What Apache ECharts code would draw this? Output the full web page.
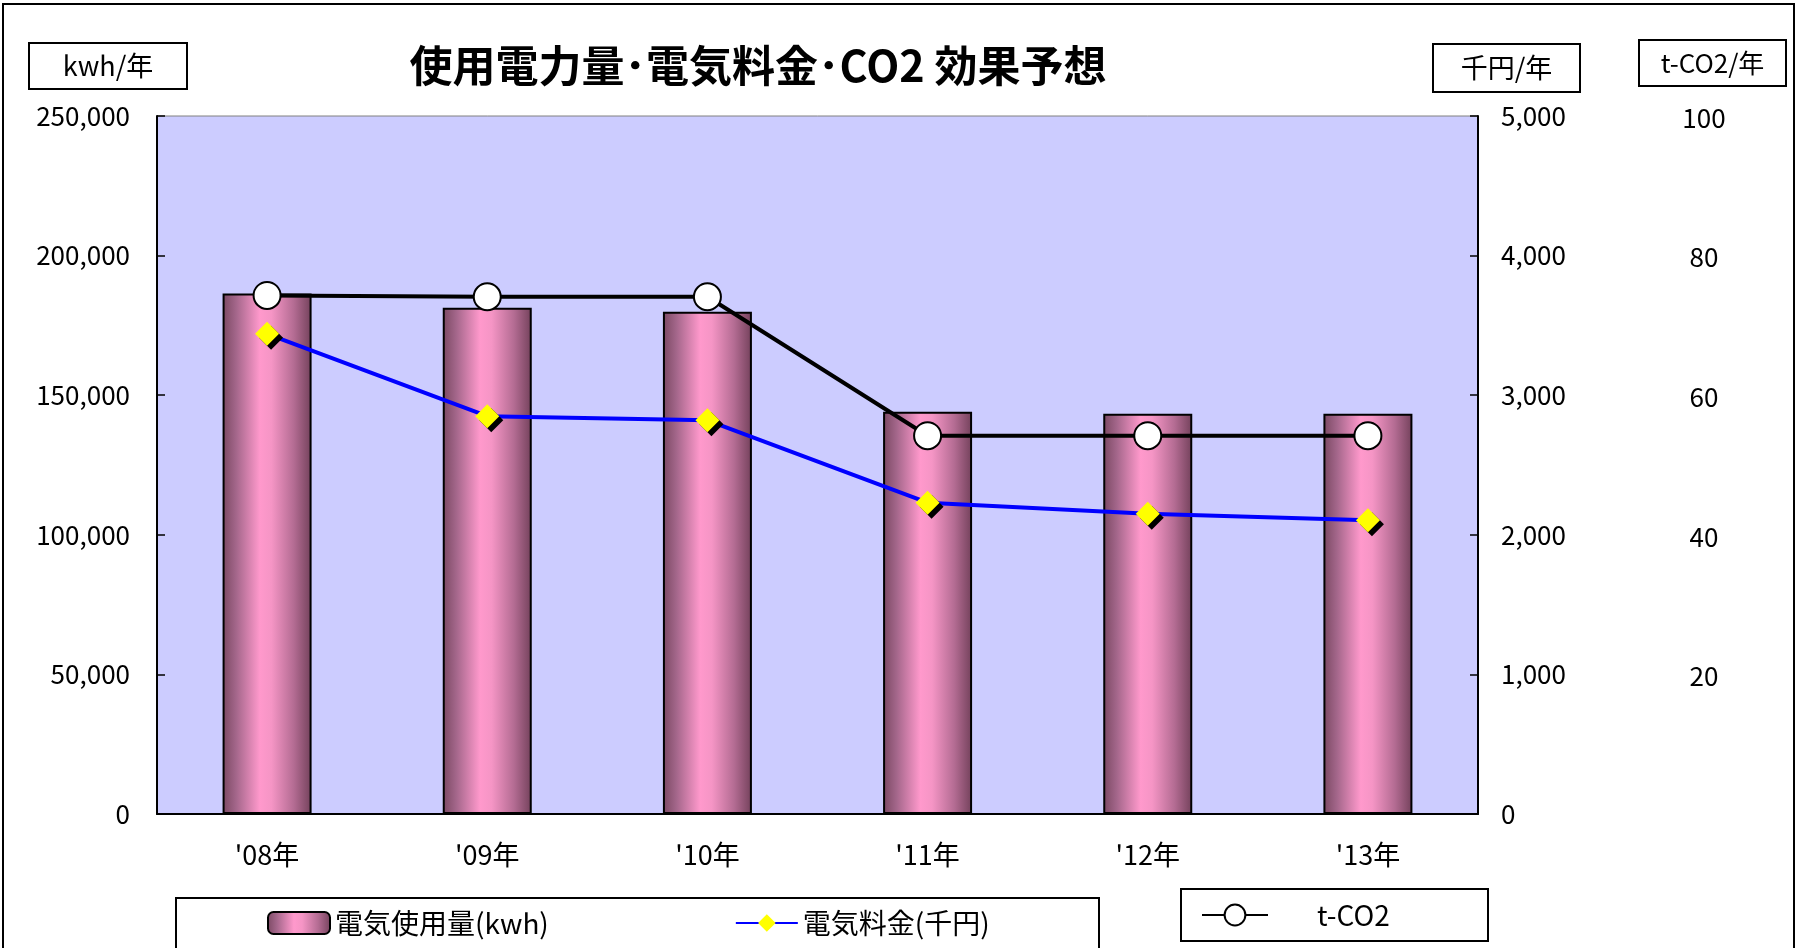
<!DOCTYPE html>
<html lang="ja">
<head>
<meta charset="utf-8">
<title>使用電力量・電気料金・CO2 効果予想</title>
<script src="https://cdn.jsdelivr.net/npm/echarts@6/dist/echarts.min.js"></script>
<style>
  html, body { margin: 0; padding: 0; background: #fff; }
  #chart { width: 1803px; height: 948px; }
</style>
</head>
<body>
<div id="chart"></div>
<script>
// 年度
const years = ["'08年", "'09年", "'10年", "'11年", "'12年", "'13年"];
// 電気使用量 (kwh/年)
const usageKwh = [186400, 181300, 179900, 144100, 143400, 143400];
// 電気料金 (千円/年)
const costSenYen = [3440, 2850, 2820, 2230, 2150, 2105];
// CO2 (t-CO2/年)
const co2Tons = [74.3, 74.1, 74.1, 54.2, 54.2, 54.2];

const FONT = '"Noto Sans CJK JP", "Noto Sans", sans-serif';
const comma = (v) => Number(v).toLocaleString('en-US');

const chart = echarts.init(document.getElementById('chart'));

// 円柱風のグラデーション
const barGradient = new echarts.graphic.LinearGradient(0, 0, 1, 0, [
  { offset: 0, color: '#7a4862' },
  { offset: 0.15, color: '#a3668a' },
  { offset: 0.42, color: '#ff99cc' },
  { offset: 0.55, color: '#f595c5' },
  { offset: 0.8, color: '#b46c93' },
  { offset: 1, color: '#73415b' },
]);

// 枠付きのラベル
function boxLabel(x, y, w, h, text, size) {
  return [
    { type: 'rect', shape: { x, y, width: w, height: h }, style: { fill: '#fff', stroke: '#000', lineWidth: 2 }, z: 1 },
    {
      type: 'text', z: 2,
      style: { x: x + w / 2, y: y + h / 2, text, align: 'center', verticalAlign: 'middle', font: `${size}px ${FONT}`, fill: '#000' },
    },
  ];
}

chart.setOption({
  backgroundColor: '#fff',
  textStyle: { fontFamily: FONT },
  animation: false,
  graphic: [
    // 外枠
    { type: 'rect', shape: { x: 3, y: 4, width: 1791, height: 980 }, style: { fill: 'none', stroke: '#000', lineWidth: 2 }, z: 0 },
    {
      type: 'text', z: 2,
      style: { x: 758, y: 66, text: '使用電力量･電気料金･CO2 効果予想', align: 'center', verticalAlign: 'middle', font: `bold 43px ${FONT}`, fill: '#000' },
    },
    ...boxLabel(29, 43, 158, 46, 'kwh/年', 27),
    ...boxLabel(1433, 44, 147, 48, '千円/年', 27),
    ...boxLabel(1639, 40, 147, 46, 't-CO2/年', 26),
    // 凡例の枠
    { type: 'rect', shape: { x: 176, y: 898, width: 923, height: 70 }, style: { fill: '#fff', stroke: '#000', lineWidth: 2 }, z: 0 },
    { type: 'rect', shape: { x: 1181, y: 889, width: 307, height: 52 }, style: { fill: '#fff', stroke: '#000', lineWidth: 2 }, z: 0 },
  ],
  legend: [
    {
      data: ['電気使用量(kwh)', '電気料金(千円)'],
      left: 262, top: 904, itemGap: 186, itemWidth: 62, itemHeight: 22,
      textStyle: { fontSize: 28, color: '#000', fontFamily: FONT },
      z: 5,
    },
    {
      data: ['t-CO2'],
      left: 1196, top: 896, itemGap: 20, itemWidth: 66, itemHeight: 26,
      textStyle: { fontSize: 28, color: '#000', fontFamily: FONT, padding: [0, 0, 0, 44] },
      z: 5,
    },
  ],
  grid: {
    left: 157, right: 1803 - 1478, top: 116, bottom: 948 - 814,
    show: true, backgroundColor: '#ccccff', borderColor: '#808080', borderWidth: 1,
  },
  xAxis: {
    type: 'category',
    data: years,
    axisLine: { lineStyle: { color: '#000', width: 2 } },
    axisTick: { inside: true, length: 8, lineStyle: { color: '#000', width: 1.5 } },
    axisLabel: { color: '#000', fontSize: 27, margin: 27, fontFamily: FONT },
  },
  yAxis: [
    {
      type: 'value', min: 0, max: 250000, interval: 50000,
      axisLine: { show: true, lineStyle: { color: '#000', width: 2 } },
      axisTick: { show: true, inside: true, length: 8, lineStyle: { color: '#000', width: 1.5 } },
      splitLine: { show: false },
      axisLabel: { color: '#000', fontSize: 26, margin: 27, formatter: comma, fontFamily: FONT },
    },
    {
      type: 'value', min: 0, max: 5000, interval: 1000, position: 'right',
      axisLine: { show: true, lineStyle: { color: '#000', width: 2 } },
      axisTick: { show: true, inside: true, length: 8, lineStyle: { color: '#000', width: 1.5 } },
      splitLine: { show: false },
      axisLabel: { color: '#000', fontSize: 26, margin: 23, formatter: comma, fontFamily: FONT },
    },
    {
      type: 'value', min: 0, max: 100, interval: 20, position: 'right', offset: 200,
      axisLine: { show: false }, axisTick: { show: false }, splitLine: { show: false },
      axisLabel: { color: '#000', fontSize: 26, margin: 26, align: 'center', showMinLabel: false, verticalAlign: 'top', padding: [-11, 0, 0, 0], fontFamily: FONT },
    },
  ],
  series: [
    {
      name: '電気使用量(kwh)',
      type: 'bar',
      data: usageKwh,
      yAxisIndex: 0,
      barWidth: 89,
      itemStyle: { color: barGradient, borderColor: '#000', borderWidth: 2 },
      z: 2,
    },
    {
      name: '電気料金(千円)',
      type: 'line',
      data: costSenYen,
      yAxisIndex: 1,
      symbol: 'diamond',
      symbolSize: 24,
      lineStyle: { color: '#0000ff', width: 4 },
      itemStyle: { color: '#ffff00', borderWidth: 0, shadowColor: '#000', shadowOffsetX: 4, shadowOffsetY: 4, shadowBlur: 0 },
      z: 4,
    },
    {
      name: 't-CO2',
      type: 'line',
      data: co2Tons,
      yAxisIndex: 2,
      symbol: 'circle',
      symbolSize: 27,
      lineStyle: { color: '#000', width: 4 },
      itemStyle: { color: '#fff', borderColor: '#000', borderWidth: 2 },
      z: 5,
    },
  ],
});
</script>
</body>
</html>
